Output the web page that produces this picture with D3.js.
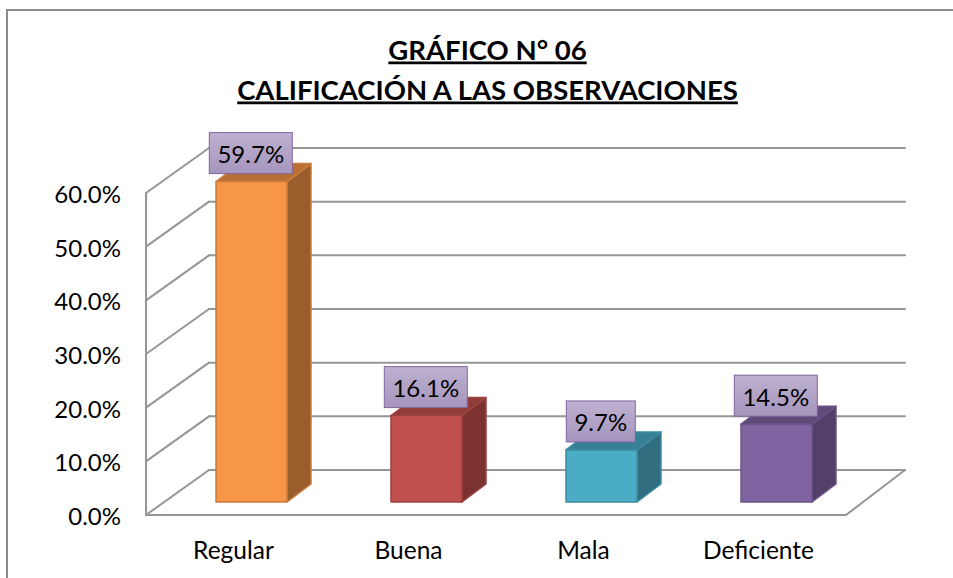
<!DOCTYPE html>
<html><head><meta charset="utf-8">
<script src="https://d3js.org/d3.v7.min.js"></script>
<style>html,body{margin:0;padding:0;background:#fff}svg{display:block}text{font-family:Lato,"Open Sans",sans-serif;fill:#000}</style>
</head><body><svg id="c" width="953" height="578"></svg>
<script>
const categories=["Regular","Buena","Mala","Deficiente"];
const values=[59.7,16.1,9.7,14.5];
const labels=["59.7%","16.1%","9.7%","14.5%"];
const yTicks=[0,10,20,30,40,50,60];
const frontColors=["#F79646","#C0504D","#4BACC6","#8064A2"];
const topColors=["#B96F34","#913C3A","#388195","#5F4B7A"];
const sideColors=["#9A5E2C","#7B3230","#316E7F","#524068"];
const edgeColors=["#C97B3C","#9C4240","#3C8CA2","#6A5388"];
const titleLines=["GRÁFICO N° 06","CALIFICACIÓN A LAS OBSERVACIONES"];

const svg=d3.select("#c");
const defs=svg.append("defs");
const g=defs.append("linearGradient").attr("id","lab").attr("x1",0).attr("y1",0).attr("x2",0).attr("y2",1);
g.append("stop").attr("offset","0%").attr("stop-color","#BDB1D0");
g.append("stop").attr("offset","100%").attr("stop-color","#A695BD");

svg.append("rect").attr("x",7).attr("y",10).attr("width",960).attr("height",580)
  .attr("fill","#fff").attr("stroke","#8a8a8a").attr("stroke-width",2);

const y=d3.scaleLinear().domain([0,60]).range([515,193]);
const x=d3.scaleBand().domain(categories).range([146,846]);
const depthX=63, depthY=45;
const grid="#969696";
const line=(x1,y1,x2,y2)=>svg.append("line").attr("x1",x1).attr("y1",y1).attr("x2",x2).attr("y2",y2)
  .attr("stroke",grid).attr("stroke-width",2).attr("stroke-linecap","round");

// walls and floor
const [fx0,fx1]=x.range();
yTicks.forEach(t=>{
  const v=y(t);
  line(fx0,v,fx0+depthX,v-depthY);
  line(fx0+depthX,v-depthY,fx1+59,v-depthY);
});
line(fx0,y(60),fx0,y(0));
line(fx0,y(0),fx1,y(0));
line(fx1,y(0),fx1+59,y(0)-depthY);

// bars
const barW=71, dx=24, dy=18, inX=18, inY=13;
const pts=a=>a.map(p=>p.join(",")).join(" ");
categories.forEach((c,i)=>{
  const x0=x(c)+x.bandwidth()/2+inX-barW/2, x1=x0+barW;
  const b=y(0)-inY, t=y(values[i])-inY;
  const bar=svg.append("g").attr("stroke",edgeColors[i]).attr("stroke-width",1.5).attr("stroke-linejoin","round");
  bar.append("polygon").attr("points",pts([[x1,t],[x1+dx,t-dy],[x1+dx,b-dy],[x1,b]])).attr("fill",sideColors[i]);
  bar.append("polygon").attr("points",pts([[x0,t],[x0+dx,t-dy],[x1+dx,t-dy],[x1,t]])).attr("fill",topColors[i]);
  bar.append("rect").attr("x",x0).attr("y",t).attr("width",barW).attr("height",b-t).attr("fill",frontColors[i]);
});

// data labels
categories.forEach((c,i)=>{
  const cx=x(c)+x.bandwidth()/2+inX-0.7;
  const w=labels[i].length>4?83:69, h=41;
  const top=y(values[i])-inY-49;
  svg.append("rect").attr("x",cx-w/2).attr("y",top).attr("width",w).attr("height",h)
    .attr("fill","url(#lab)").attr("stroke","#8064A2").attr("stroke-width",1);
  svg.append("text").attr("x",cx).attr("y",top+30.5).attr("text-anchor","middle")
    .attr("font-size",24).text(labels[i]);
});

// y-axis labels
yTicks.forEach(t=>{
  svg.append("text").attr("x",121).attr("y",y(t)+10).attr("text-anchor","end")
    .attr("font-size",24).text(d3.format(".1f")(t)+"%");
});
// category labels
categories.forEach(c=>{
  svg.append("text").attr("x",x(c)+x.bandwidth()/2).attr("y",558.5).attr("text-anchor","middle")
    .attr("font-size",24.5).text(c);
});
// title
titleLines.forEach((s,i)=>{
  svg.append("text").attr("x",487.5).attr("y",[59.5,99.5][i]).attr("text-anchor","middle")
    .attr("font-size",27.5).attr("font-weight",700).attr("text-decoration","underline").text(s);
});
</script></body></html>
